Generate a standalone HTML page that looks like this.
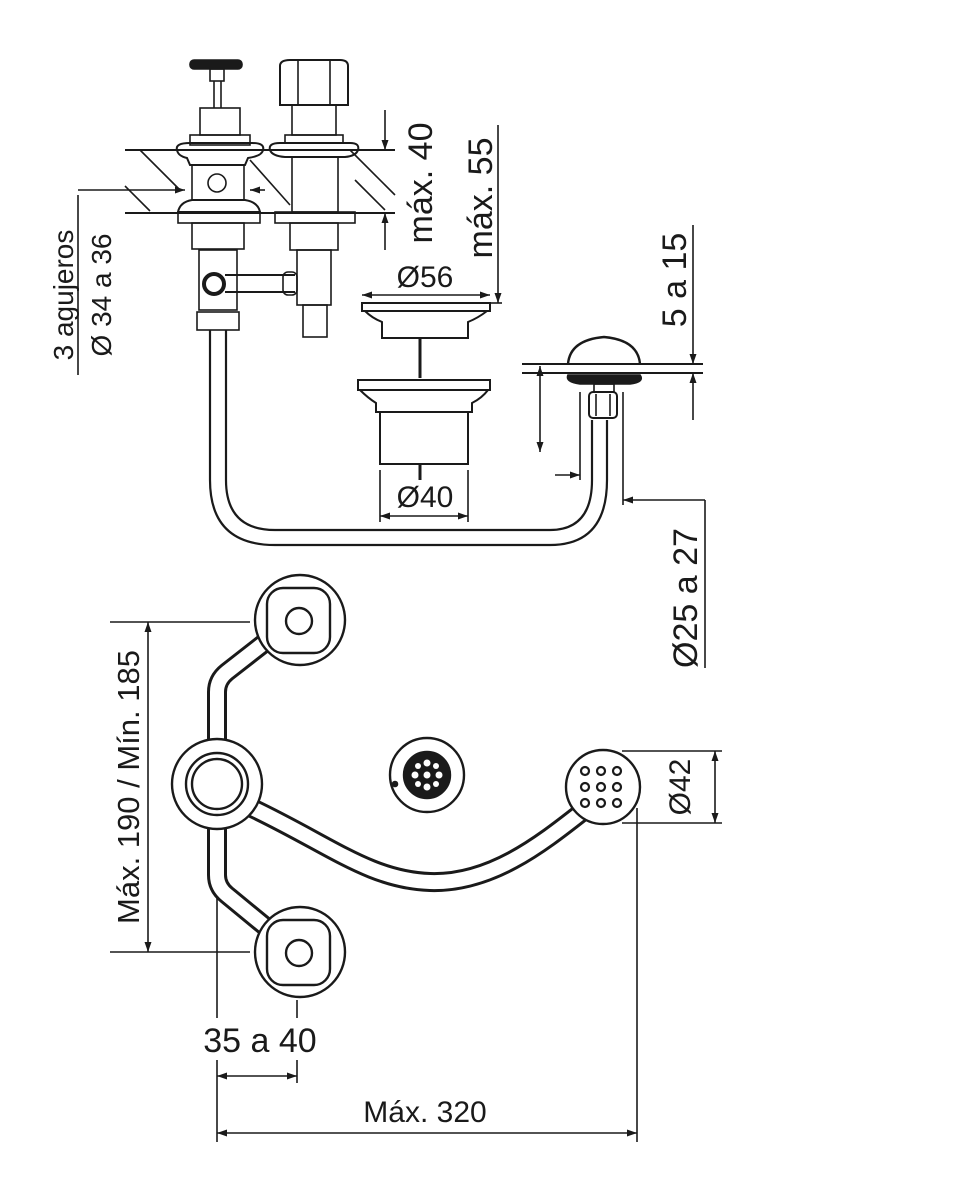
<!DOCTYPE html>
<html><head><meta charset="utf-8"><style>
html,body{margin:0;padding:0;background:#fff;}
svg{display:block;}
text{font-family:"Liberation Sans",Arial,sans-serif;fill:#1a1a1a;stroke:none;}
</style></head><body>
<svg width="963" height="1200" viewBox="0 0 963 1200" xmlns="http://www.w3.org/2000/svg">
<defs>
<marker id="a" viewBox="0 0 10 10" refX="10" refY="5" markerWidth="10" markerHeight="10" markerUnits="userSpaceOnUse" orient="auto-start-reverse"><path d="M0,1.5 L10,5 L0,8.5 z" fill="#1a1a1a" stroke="none"/></marker>
</defs>
<g stroke="#1a1a1a" fill="none" stroke-width="1.6">
<line x1="125" y1="150" x2="395" y2="150" stroke-width="2"/>
<line x1="125" y1="213" x2="395" y2="213" stroke-width="2"/>
<line x1="140" y1="150" x2="180" y2="190"/><line x1="125" y1="186" x2="150" y2="211"/>
<line x1="250" y1="160" x2="290" y2="205"/><line x1="350" y1="150" x2="395" y2="195"/>
<line x1="355" y1="180" x2="385" y2="210"/>
<rect x="190" y="60" width="52" height="9" rx="4" fill="#1a1a1a"/>
<rect x="210" y="69" width="14" height="12"/><line x1="214" y1="81" x2="214" y2="108"/><line x1="221" y1="81" x2="221" y2="108"/>
<rect x="200" y="108" width="40" height="27"/><rect x="190" y="135" width="60" height="10"/>
<path d="M177,150 Q175,143 190,143 L252,143 Q265,143 263,150 Q262,156 248,158 L245,165 L190,165 L187,158 Q178,156 177,150z" stroke-width="2"/>
<rect x="192" y="165" width="52" height="35"/><circle cx="217" cy="183" r="9"/>
<path d="M178,212 Q180,202 192,200 L245,200 Q258,202 260,212 z" stroke-width="2"/>
<rect x="178" y="212" width="82" height="11"/>
<rect x="192" y="223" width="52" height="26"/>
<rect x="199" y="250" width="38" height="60"/>
<rect x="197" y="312" width="42" height="18"/>
<path d="M280,66 Q280,60 290,60 L340,60 Q348,60 348,66 L348,105 L280,105z" stroke-width="2"/>
<line x1="298" y1="60" x2="298" y2="105"/><line x1="330" y1="60" x2="330" y2="105"/>
<rect x="292" y="105" width="44" height="30"/><rect x="285" y="135" width="58" height="8"/>
<path d="M270,150 Q268,143 280,143 L350,143 Q360,143 358,150 Q356,156 345,157 L285,157 Q272,156 270,150z" stroke-width="2"/>
<rect x="292" y="157" width="46" height="55"/>
<rect x="275" y="212" width="80" height="11"/>
<rect x="290" y="223" width="48" height="27"/>
<rect x="297" y="250" width="34" height="55"/>
<rect x="303" y="305" width="24" height="32"/>
<path d="M225,275 L295,275 M225,292 L295,292" stroke-width="2"/>
<rect x="283" y="272" width="14" height="23" rx="5"/>
<circle cx="214" cy="284" r="10" stroke-width="4"/>
<path d="M210,330 L210,480 Q210,545 275,545 L550,545 Q607,545 607,480 L607,420" stroke-width="2.2"/>
<path d="M226,330 L226,480 Q226,530 275,530 L550,530 Q592,530 592,480 L592,420" stroke-width="2.2"/>
<path d="M362,303 L490,303 L490,311 L362,311z" stroke-width="2"/>
<path d="M365,311 Q372,318 382,322 L382,338 L468,338 L468,322 Q478,318 487,311" stroke-width="2"/>
<line x1="420" y1="338" x2="420" y2="378" stroke-width="3"/>
<path d="M358,380 L490,380 L490,390 L358,390z" stroke-width="2"/>
<path d="M360,390 Q368,398 376,403 L376,412 L472,412 L472,403 Q482,398 488,390" stroke-width="2"/>
<rect x="380" y="412" width="88" height="52" stroke-width="2"/>
<line x1="420" y1="464" x2="420" y2="480" stroke-width="3"/>
<path d="M568,364 Q570,340 604,337 Q638,340 640,364" stroke-width="2.4"/>
<line x1="522" y1="364" x2="703" y2="364" stroke-width="2"/>
<line x1="522" y1="373" x2="703" y2="373" stroke-width="2"/>
<path d="M568,375 L640,375 Q645,382 630,384 L580,384 Q565,382 568,375z" fill="#1a1a1a"/>
<rect x="594" y="384" width="20" height="8"/>
<rect x="589" y="392" width="28" height="26" rx="4" stroke-width="2"/>
<line x1="596" y1="394" x2="596" y2="416"/><line x1="610" y1="394" x2="610" y2="416"/>
<line x1="78" y1="190" x2="185" y2="190" marker-end="url(#a)"/>
<line x1="265" y1="190" x2="250" y2="190" marker-end="url(#a)"/>
<line x1="78" y1="195" x2="78" y2="375"/>
<text transform="translate(73,295) rotate(-90)" font-size="28" text-anchor="middle">3 agujeros</text>
<text transform="translate(111,295) rotate(-90)" font-size="28" text-anchor="middle">Ø 34 a 36</text>
<line x1="385" y1="110" x2="385" y2="150" marker-end="url(#a)"/>
<line x1="385" y1="250" x2="385" y2="213" marker-end="url(#a)"/>
<text transform="translate(432,183) rotate(-90)" font-size="34" text-anchor="middle">máx. 40</text>
<line x1="498" y1="125" x2="498" y2="303" marker-end="url(#a)"/>
<line x1="490" y1="303" x2="502" y2="303"/>
<text transform="translate(492,198) rotate(-90)" font-size="34" text-anchor="middle">máx. 55</text>
<line x1="362" y1="295" x2="490" y2="295" marker-start="url(#a)" marker-end="url(#a)"/>
<text x="425" y="287" font-size="30" text-anchor="middle">Ø56</text>
<line x1="380" y1="470" x2="380" y2="522"/><line x1="468" y1="470" x2="468" y2="522"/>
<line x1="380" y1="516" x2="468" y2="516" marker-start="url(#a)" marker-end="url(#a)"/>
<text x="425" y="507" font-size="30" text-anchor="middle">Ø40</text>
<line x1="540" y1="366" x2="540" y2="452" marker-start="url(#a)" marker-end="url(#a)"/>
<line x1="693" y1="225" x2="693" y2="364" marker-end="url(#a)"/>
<line x1="693" y1="420" x2="693" y2="373" marker-end="url(#a)"/>
<text transform="translate(686,280) rotate(-90)" font-size="34" text-anchor="middle">5 a 15</text>
<line x1="580" y1="392" x2="580" y2="480"/><line x1="623" y1="392" x2="623" y2="505"/>
<line x1="555" y1="475" x2="580" y2="475" marker-end="url(#a)"/>
<line x1="705" y1="500" x2="623" y2="500" marker-end="url(#a)"/>
<line x1="705" y1="500" x2="705" y2="668"/>
<text transform="translate(697,598) rotate(-90)" font-size="34" text-anchor="middle">Ø25 a 27</text>

<g stroke-width="20" stroke="#1a1a1a" stroke-linejoin="round">
<path d="M217,745 L217,692 Q217,680 227,672 L268,640"/>
<path d="M217,822 L217,875 Q217,887 227,895 L272,932"/>
<path d="M252,808 C330,845 370,880 430,882 C490,884 540,845 582,812"/>
</g>
<g stroke-width="14" stroke="#fff" stroke-linejoin="round">
<path d="M217,745 L217,692 Q217,680 227,672 L268,640"/>
<path d="M217,822 L217,875 Q217,887 227,895 L272,932"/>
<path d="M252,808 C330,845 370,880 430,882 C490,884 540,845 582,812"/>
</g>
<g stroke-width="2.4">
<circle cx="300" cy="620" r="45" fill="#fff"/>
<rect x="267" y="588" width="63" height="65" rx="16"/>
<circle cx="299" cy="621" r="13"/>
<circle cx="300" cy="952" r="45" fill="#fff"/>
<rect x="267" y="920" width="63" height="65" rx="16"/>
<circle cx="299" cy="953" r="13"/>
<circle cx="217" cy="784" r="45" fill="#fff"/>
<circle cx="217" cy="784" r="31"/>
<circle cx="217" cy="784" r="25"/>
<circle cx="427" cy="775" r="37"/>
<circle cx="427" cy="775" r="23" fill="#1a1a1a"/>
<circle cx="603" cy="787" r="37" fill="#fff"/>
</g>
<g fill="#fff" stroke="none">
<circle cx="427" cy="775" r="3.5"/><circle cx="427" cy="763" r="3.5"/><circle cx="427" cy="787" r="3.5"/>
<circle cx="415" cy="775" r="3.5"/><circle cx="439" cy="775" r="3.5"/><circle cx="418" cy="766" r="3"/>
<circle cx="436" cy="766" r="3"/><circle cx="418" cy="784" r="3"/><circle cx="436" cy="784" r="3"/>
</g>
<circle cx="395" cy="784" r="2.5" fill="#1a1a1a"/>
<g stroke-width="2.2">
<circle cx="585" cy="771" r="4"/><circle cx="601" cy="771" r="4"/><circle cx="617" cy="771" r="4"/>
<circle cx="585" cy="787" r="4"/><circle cx="601" cy="787" r="4"/><circle cx="617" cy="787" r="4"/>
<circle cx="585" cy="803" r="4"/><circle cx="601" cy="803" r="4"/><circle cx="617" cy="803" r="4"/>
</g>
<line x1="110" y1="622" x2="250" y2="622"/><line x1="110" y1="952" x2="250" y2="952"/>
<line x1="148" y1="622" x2="148" y2="952" marker-start="url(#a)" marker-end="url(#a)"/>
<text transform="translate(139,787) rotate(-90)" font-size="31" text-anchor="middle">Máx. 190 / Mín. 185</text>
<line x1="217" y1="898" x2="217" y2="1018"/>
<line x1="217" y1="1060" x2="217" y2="1142"/>
<line x1="297" y1="1000" x2="297" y2="1018"/>
<line x1="297" y1="1060" x2="297" y2="1083"/>
<line x1="217" y1="1076" x2="297" y2="1076" marker-start="url(#a)" marker-end="url(#a)"/>
<text x="260" y="1052" font-size="34" text-anchor="middle">35 a 40</text>
<line x1="637" y1="808" x2="637" y2="1142"/>
<line x1="217" y1="1133" x2="637" y2="1133" marker-start="url(#a)" marker-end="url(#a)"/>
<text x="425" y="1122" font-size="30" text-anchor="middle">Máx. 320</text>
<line x1="622" y1="751" x2="722" y2="751"/><line x1="622" y1="823" x2="722" y2="823"/>
<line x1="715" y1="751" x2="715" y2="823" marker-start="url(#a)" marker-end="url(#a)"/>
<text transform="translate(690,787) rotate(-90)" font-size="30" text-anchor="middle">Ø42</text>
</g>
</svg>
</body></html>
